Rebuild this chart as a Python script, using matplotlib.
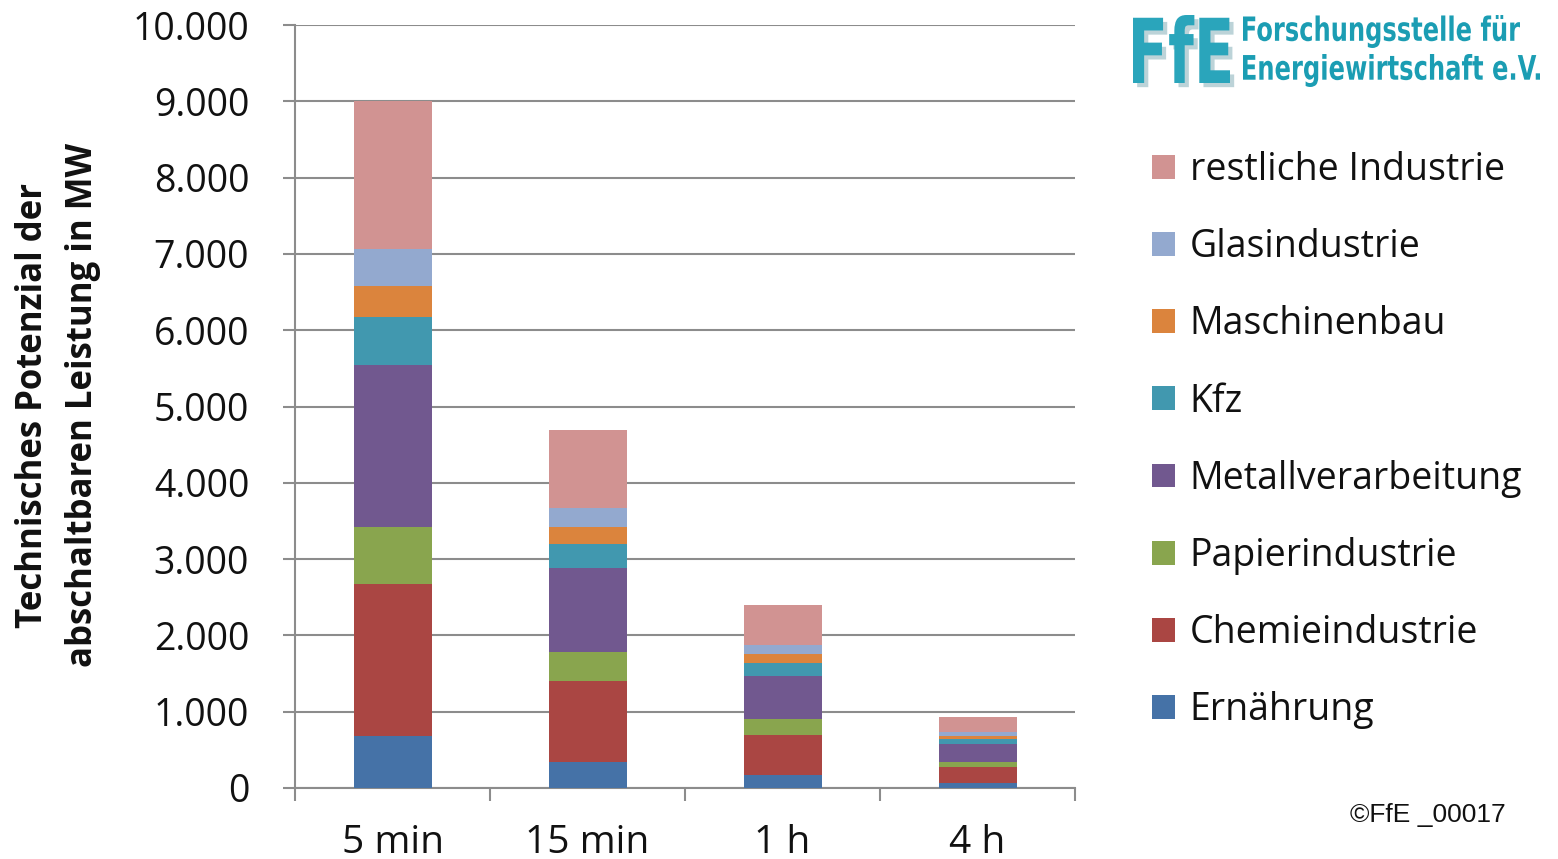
import matplotlib.pyplot as plt
import matplotlib.patheffects as pe
from matplotlib.patches import Patch, PathPatch
from matplotlib.textpath import TextPath
from matplotlib.font_manager import FontProperties
from matplotlib.transforms import Affine2D, IdentityTransform
from matplotlib.ticker import FuncFormatter, FixedLocator

# abschaltbare Leistung je Branche und Abrufdauer (MW)
dauer = ['5 min', '15 min', '1 h', '4 h']
branchen = ['Ernährung', 'Chemieindustrie', 'Papierindustrie', 'Metallverarbeitung',
            'Kfz', 'Maschinenbau', 'Glasindustrie', 'restliche Industrie']
ernaehrung = [680, 345, 170, 60]
chemie = [2000, 1055, 530, 220]
papier = [740, 380, 200, 65]
metall = [2120, 1100, 570, 230]
kfz = [630, 320, 170, 65]
maschinenbau = [410, 220, 110, 45]
glas = [480, 250, 120, 55]
rest = [1940, 1020, 530, 195]
werte = [ernaehrung, chemie, papier, metall, kfz, maschinenbau, glas, rest]
farben = ['#4572A7', '#AA4643', '#89A54E', '#71588F',
          '#4198AF', '#DB843D', '#93A9CF', '#D19392']

plt.rcParams['font.family'] = ['Open Sans', 'DejaVu Sans']
textfarbe = '#111111'
grau = '#8c8c8c'
W, H = 1558, 859

fig = plt.figure(figsize=(W / 100, H / 100), dpi=100)
ax = fig.add_axes([295 / W, 71 / H, 780 / W, 763 / H])

x = range(len(dauer))
unten = [0] * len(dauer)
for name, serie, farbe in zip(branchen, werte, farben):
    ax.bar(x, serie, bottom=unten, width=0.4, color=farbe, label=name, zorder=3)
    unten = [u + s for u, s in zip(unten, serie)]

ax.set_xlim(-0.5, 3.5)
ax.set_ylim(0, 10000)
ax.set_yticks(range(0, 10001, 1000))
ax.yaxis.set_major_formatter(FuncFormatter(lambda v, p: f'{int(v):,}'.replace(',', '.')))
ax.grid(axis='y', color=grau, linewidth=1.5, zorder=0)

ax.set_xticks(list(x))
ax.set_xticklabels(dauer)
ax.xaxis.set_minor_locator(FixedLocator([-0.5, 0.5, 1.5, 2.5, 3.5]))
ax.tick_params(axis='x', which='major', length=0, pad=26, labelsize=28, labelcolor=textfarbe)
ax.tick_params(axis='x', which='minor', length=9, width=1.5, color=grau, direction='out')
ax.tick_params(axis='y', length=9, width=1.5, color=grau, pad=24, labelsize=27,
               labelcolor=textfarbe)

for s in ['top', 'right']:
    ax.spines[s].set_visible(False)
for s in ['left', 'bottom']:
    ax.spines[s].set_color(grau)
    ax.spines[s].set_linewidth(1.5)

fig.text(58 / W, 1 - 405 / H,
         'Technisches Potenzial der\nabschaltbaren Leistung in MW',
         rotation=90, ha='center', va='center', fontsize=25, fontweight='bold',
         color=textfarbe, linespacing=1.5)

# Legende in umgekehrter Reihenfolge (oben = restliche Industrie)
handles = [Patch(facecolor=f, edgecolor='none') for f in farben][::-1]
fig.legend(handles, branchen[::-1], loc='upper left',
           bbox_to_anchor=(1137 / W, 1 - 136 / H), frameon=False,
           fontsize=27, labelcolor=textfarbe, handlelength=0.6, handleheight=0.6,
           handletextpad=0.4, labelspacing=1.045, borderaxespad=0)


def schriftzug(text, x0, y0, x1, y1, farbe, schatten=False):
    # Text als Pfad in ein Pixelrechteck (oben links x0,y0 / unten rechts x1,y1) einpassen
    tp = TextPath((0, 0), text, size=100, prop=FontProperties(family='DejaVu Sans', weight='bold'))
    ext = tp.get_extents()
    sx = (x1 - x0) / ext.width
    sy = (y1 - y0) / ext.height
    tr = (Affine2D().translate(-ext.x0, -ext.y0).scale(sx, sy)
          .translate(x0, H - y1))
    patch = PathPatch(tr.transform_path(tp), facecolor=farbe, edgecolor='none',
                      transform=IdentityTransform())
    if schatten:
        patch.set_path_effects([pe.withSimplePatchShadow(offset=(3, -3), shadow_rgbFace='#7aa9b3',
                                                         alpha=0.5)])
    fig.add_artist(patch)


# Logo
teal = '#1b9db3'
schriftzug('FfE', 1133, 15, 1230, 83, '#2aa5bb', schatten=True)
schriftzug('Forschungsstelle für', 1243, 15, 1520, 48, teal)
schriftzug('Energiewirtschaft e.V.', 1243, 54, 1540, 87, teal)

fig.text(1350 / W, 1 - 815 / H, '©FfE _00017', fontsize=19, color=textfarbe,
         family=['Liberation Sans', 'DejaVu Sans'], ha='left', va='center')

fig.savefig('out.png', dpi=100)
